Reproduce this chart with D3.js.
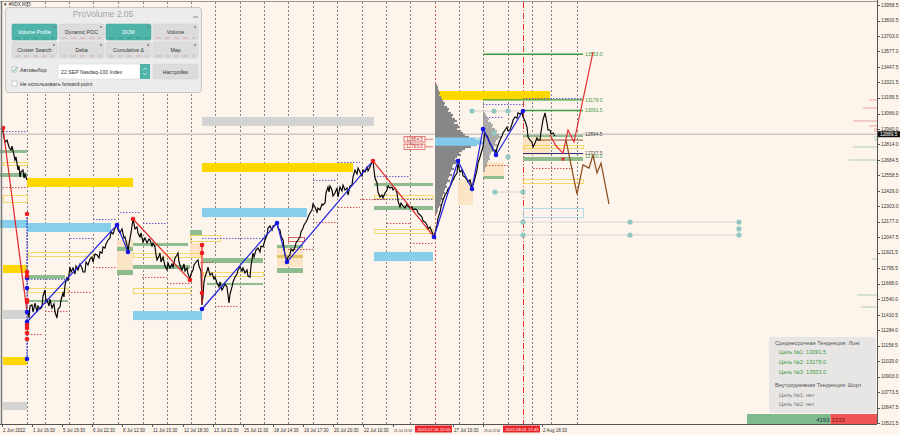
<!DOCTYPE html>
<html>
<head>
<meta charset="utf-8">
<script src="https://cdn.jsdelivr.net/npm/d3@7"></script>
<style>
html, body { margin: 0; padding: 0; background: #fdf4ec; }
svg { display: block; font-family: "Liberation Sans", Arial, sans-serif; }
</style>
</head>
<body>
<div id="chart"></div>
<script>
// ---- data ----
var priceTicks = [13958.5, 13830.5, 13703.0, 13577.0, 13447.5, 13321.5, 13195.5, 13066.0, 12940.0, 12814.0,
  12684.5, 12558.5, 12429.0, 12303.0, 12177.0, 12047.5, 11921.5, 11795.5, 11668.0, 11540.0, 11410.5,
  11284.0, 11158.5, 11029.0, 10903.0, 10773.5, 10647.5, 10521.5];

var timeLabels = [[2,"2 Jun 2022"],[32,"1 Jul 16:30"],[62,"5 Jul 19:30"],[92,"6 Jul 22:30"],[122,"8 Jul 12:30"],
  [152,"11 Jul 15:30"],[183,"12 Jul 18:30"],[213,"13 Jul 21:30"],[243,"15 Jul 11:30"],[273,"18 Jul 14:30"],
  [303,"19 Jul 17:30"],[333,"20 Jul 20:30"],[363,"22 Jul 10:30"],[393,"25 Jul 13:30"],[453,"27 Jul 19:30"],
  [483,"28 Jul 22:30"],[542,"2 Aug 18:30"]];
var markedTimes = [[415,"2022.07.26 22:00"],[503,"2022.08.01 17:45"]];

var daySeparators = [27,45,69,93,118,143,167,191,215,240,264,288,313,337,362,386,410,459,483,508,532,551,577];

// bar index, close
var priceEarly = [[1,12947],[3,12914],[5,12832],[7,12848],[9,12791],[11,12766],[12,12799],[14,12725],[15,12684],
  [16,12709],[18,12602],[19,12635],[20,12544],[21,12585],[23,12602],[24,12536],[25,12569],[27,12520]];

var priceMain = [[28,11451],[29,11385],[30,11484],[32,11492],[33,11434],[35,11508],[37,11434],[38,11484],[40,11459],
  [42,11475],[43,11566],[45,11615],[46,11516],[47,11533],[49,11484],[50,11541],[52,11467],[54,11500],[55,11434],
  [56,11410],[57,11385],[58,11459],[60,11475],[61,11533],[63,11590],[64,11558],[65,11656],[67,11722],[68,11689],
  [70,11804],[71,11763],[73,11796],[75,11747],[76,11812],[78,11780],[80,11829],[82,11796],[83,11763],[85,11763],
  [86,11845],[88,11821],[90,11870],[92,11886],[93,11845],[95,11911],[97,11903],[99,11878],[100,11928],[102,11919],
  [103,11969],[105,11960],[106,11993],[108,12026],[110,12043],[111,12092],[113,12076],[115,12125],[117,12150],
  [118,12108],[120,12084],[122,12117],[124,12043],[125,12051],[127,11985],[128,11928],[129,11993],[131,12084],
  [132,12141],[133,12199],[134,12158],[135,12117],[137,12133],[138,12084],[140,12051],[141,12084],[143,12010],
  [145,12043],[147,12002],[149,12034],[150,12026],[152,11977],[153,12002],[155,11969],[156,11903],[157,11862],
  [159,11895],[160,11919],[161,11845],[163,11886],[165,11812],[167,11780],[168,11837],[170,11796],[172,11829],
  [173,11804],[175,11878],[177,11903],[178,11919],[179,11845],[181,11796],[182,11780],[184,11829],[185,11771],
  [187,11796],[188,11747],[190,11706],[191,11747],[193,11780],[194,11821],[196,11845],[198,11862],[199,11812],
  [201,11771],[202,11492],[203,11566],[204,11681],[205,11722],[207,11771],[208,11804],[210,11738],[212,11755],
  [214,11706],[215,11722],[217,11673],[219,11640],[220,11681],[222,11615],[224,11648],[225,11664],[227,11640],
  [228,11574],[229,11508],[230,11582],[232,11640],[233,11681],[235,11722],[237,11747],[238,11780],[240,11804],
  [242,11771],[243,11796],[245,11755],[247,11780],[248,11730],[250,11722],[251,11812],[253,11919],[254,11886],
  [256,11944],[258,11960],[260,11928],[261,11977],[263,11969],[265,12026],[267,12067],[268,12125],[270,12141],
  [272,12108],[273,12141],[275,12150],[277,12166],[278,12125],[280,12108],[281,12059],[283,12026],[284,11960],
  [285,11903],[287,11845],[288,11886],[290,11903],[291,11952],[293,11936],[295,11969],[296,12002],[298,12026],
  [300,12051],[301,12092],[303,12125],[304,12150],[306,12174],[307,12191],[309,12232],[310,12248],[312,12273],
  [313,12322],[315,12298],[317,12256],[318,12289],[320,12273],[322,12322],[323,12314],[325,12330],[326,12413],
  [328,12462],[329,12421],[330,12470],[332,12437],[333,12388],[335,12413],[337,12454],[338,12380],[340,12462],
  [342,12429],[343,12478],[345,12437],[347,12454],[348,12396],[350,12470],[352,12478],[353,12544],[355,12602],
  [357,12569],[358,12618],[360,12585],[362,12553],[363,12602],[365,12585],[367,12626],[368,12594],[370,12626],
  [371,12651],[373,12676],[374,12602],[375,12536],[377,12495],[378,12421],[380,12380],[382,12396],[383,12372],
  [385,12413],[387,12437],[388,12470],[390,12454],[392,12462],[393,12437],[395,12454],[397,12413],[398,12347],
  [400,12298],[401,12330],[403,12306],[405,12289],[407,12322],[408,12306],[410,12289],[412,12298],[413,12273],
  [415,12281],[417,12273],[418,12248],[420,12232],[422,12215],[423,12182],[425,12174],[427,12150],[428,12117],
  [430,12133],[432,12092],[434,12051],[435,12084],[437,12150],[438,12207],[440,12256],[441,12298],[443,12355],
  [445,12396],[447,12421],[448,12446],[450,12462],[452,12503],[453,12520],[455,12553],[457,12577],[458,12659],
  [459,12618],[460,12585],[462,12602],[463,12553],[465,12544],[467,12520],[468,12503],[470,12520],[472,12454],
  [473,12478],[475,12536],[477,12602],[478,12659],[480,12709],[482,12766],[483,12791],[484,12865],[485,12906],
  [487,12881],[488,12865],[490,12816],[492,12791],[493,12766],[495,12766],[496,12742],[497,12783],[498,12807],
  [500,12848],[502,12881],[503,12906],[505,12931],[507,12955],[508,12923],[510,12931],[512,12980],[513,13013],
  [515,13038],[517,13029],[518,13071],[520,13062],[522,13079],[523,13038],[525,13005],[527,12955],[528,12873],
  [530,12848],[532,12832],[533,12791],[535,12824],[537,12865],[538,12848],[540,12848],[541,12914],[543,13013],
  [545,13071],[546,13029],[547,12988],[548,12931],[550,12931],[551,12898],[553,12906],[555,12881]];

// zigzag legs: bar1, price1, bar2, price2, colour key
var zigzagLegs = [[3,12947,27,11434,"dn"],[27,11352,117,12150,"up"],[117,12150,128,11928,"up"],
  [133,12199,190,11697,"dn"],[202,11985,202,11508,"dn"],[202,11459,277,12166,"up"],[277,12166,287,11845,"up"],
  [287,11845,373,12676,"up"],[373,12676,434,12051,"dn"],[434,12051,458,12676,"up"],[458,12676,472,12446,"up"],
  [472,12446,483,12939,"up"],[483,12939,496,12725,"up"],[496,12725,523,13087,"up"]];
var pivotsBlue = [[27,11352],[117,12150],[128,11928],[202,11459],[277,12166],[287,11845],[434,12051],[458,12676],
  [472,12446],[483,12939],[496,12725],[523,13087],[27,11048],[27,11714],[27,11632],[27,11434]];
var pivotsRed = [[3,12947],[133,12199],[190,11697],[373,12676],[27,12240],[202,11985],[202,11919],[202,11590],
  [27,11763],[27,11730],[27,11533],[27,11516],[27,11327],[27,11303],[27,11261],[27,11212]];

var forecastUp = [[550,12890],[556,12799],[563,12741],[568,12931],[574,12832],[593,13572]];
var forecastDown = [[566,12848],[577,12404],[583,12643],[589,12618],[593,12725],[597,12577],[601,12659],[609,12322]];

// levels: bar from, bar to, upper price, lower price
var bandsGrey = [[202,374,13038,12964],[3,27,11451,11377],[3,27,10694,10628]];
var bandsGold = [[27,133,12536,12462],[202,353,12659,12585],[435,550,13251,13177],[3,27,11821,11755],[3,27,11064,10998]];
var bandsSky = [[0,27,12191,12125],[27,111,12166,12092],[202,307,12289,12215],[133,202,11442,11368],[374,433,11928,11853]];
var bandsGreen = [[0,27,12766,12742],[0,27,12577,12544],[28,65,11738,11706],[28,68,11533,11516],[117,133,11969,11936],
  [133,188,12002,11977],[133,190,11821,11788],[117,133,11780,11738],[190,202,12108,12067],[203,263,11878,11837],
  [207,263,11673,11656],[277,303,11985,11960],[277,303,11796,11755],[374,433,12495,12470],[374,433,12306,12273],
  [483,504,12552,12528],[523,583,12709,12676],[523,583,12898,12873]];
var bandsBeige = [[117,133,12026,11780],[277,303,11969,11804],[190,202,12002,11878],[483,504,12667,12544],
  [458,473,12520,12314],[523,550,12873,12725]];
var bandsOchre = [[277,303,11903,11878]];
var boxesYellow = [[28,92,11928,11895],[28,68,11632,11599],[133,200,11919,11886],[133,190,11632,11590],
  [3,27,12668,12643],[3,27,12396,12339],[190,220,12067,12018],[203,263,11763,11730],[374,433,12396,12372],
  [374,433,12117,12084],[523,583,12807,12783],[523,583,12528,12495]];
var boxesRed = [[288,304,12051,12018]];
var boxesCyan = [[523,583,12289,12215]];

// short dotted levels: bar from, bar to, price
var dotsBlue = [[3,27,12922],[120,140,12256],[143,167,12166],[70,93,12043],[93,117,12199],[28,65,11706],
  [202,263,12043],[313,337,12520],[338,360,12668],[374,410,12552],[374,433,12363],[483,503,13038],
  [483,523,13144],[523,583,13194]];
var dotsRed = [[3,27,12462],[28,43,11253],[45,68,11442],[68,92,11599],[93,117,11804],[142,167,11722],
  [167,190,11673],[215,238,11484],[200,213,11845],[288,313,11952],[313,337,12174],[338,360,12298],
  [360,387,12363],[387,410,12166],[410,433,12002],[483,508,12643],[533,573,12618]];

var targets = [[483,583,13553.0,"13553.0"],[483,583,13178.0,"13178.0"],[523,583,13091.5,"13091.5"]];
var lastPrice = 12896.0;

var nodes = [[472,13087],[494,13087],[508,13087],[494,12906],[508,12709],[495,12421],[523,12421],[523,12174],
  [523,12067],[630,12174],[630,12067],[739,12174],[739,12117],[739,12067]];
var nodeLinks = [[472,523,13087],[495,523,12421],[480,739,12174],[480,739,12067]];

// volume profile (bar widths) from 13309 downward, one bin every 16.4 points
var profileVolume = [2,3,3,4,5,4,6,7,8,10,9,12,14,13,16,18,17,20,22,19,23,25,22,26,28,30,34,40,46,48,42,36,
  30,27,24,26,22,20,23,21,18,17,19,16,15,17,14,13,15,12,11,12,10,9,10,8,7,8,6,5,6,4,3,3,2];
var profile2Volume = [2,3,4,6,5,8,10,9,12,14,13,16,18,15,13,12,14,11,9,10,8,7,6,7,5,4,4,3,2,2];

var domAsks = [[13178,8],[13112,14],[13005,24],[12964,8],[12939,3],[12923,3]];
var domBids = [[12873,3],[12849,3],[12791,24],[12684,28],[11870,5],[11574,20],[11475,16]];

var buyVol = 4193, sellVol = 2333;

var trendLines = [
  ["Среднесрочная Тенденция: Лонг", "#555", 0],
  ["Цель №1: 13091.5", "#3f9b3f", 1],
  ["Цель №2: 13178.0", "#3f9b3f", 1],
  ["Цель №3: 13553.0", "#3f9b3f", 1],
  ["Внутридневная Тенденция: Шорт", "#555", 0],
  ["Цель №1: нет", "#777", 1],
  ["Цель №2: нет", "#777", 1]
];
var buttons = [["Volume Profile",1],["Dynamic POC",0],["DOM",1],["Volume",0],
  ["Cluster Search",0],["Delta",0],["Cumulative Δ",0],["Map",0]];

// ---- drawing ----
var W = 900, H = 435, plotRight = 877, plotBottom = 424;
var x = d3.scaleLinear().domain([0, 877]).range([0, plotRight]);
var y = d3.scaleLinear().domain([10521.5, 13958.5]).range([423, 5]);

var svg = d3.select("#chart").append("svg").attr("width", W).attr("height", H);
svg.append("rect").attr("width", W).attr("height", H).attr("fill", "#fdf4ec");

var plot = svg.append("g");

// day separators
plot.selectAll(".sep").data(daySeparators).enter().append("line")
    .attr("x1", d => x(d) + 0.5).attr("x2", d => x(d) + 0.5)
    .attr("y1", 2).attr("y2", plotBottom)
    .attr("stroke", "#666").attr("stroke-width", 0.8).attr("stroke-dasharray", "2,2");
plot.append("line").attr("x1", x(435) + 0.5).attr("x2", x(435) + 0.5).attr("y1", 2).attr("y2", plotBottom)
    .attr("stroke", "#d03030").attr("stroke-width", 0.8).attr("stroke-dasharray", "2,2");
plot.append("line").attr("x1", x(523) + 0.5).attr("x2", x(523) + 0.5).attr("y1", 2).attr("y2", plotBottom)
    .attr("stroke", "#e83030").attr("stroke-width", 1).attr("stroke-dasharray", "6,2,1,2");

function drawBands(data, fill, opacity) {
  plot.append("g").selectAll("rect").data(data).enter().append("rect")
      .attr("x", d => x(d[0])).attr("width", d => x(d[1]) - x(d[0]))
      .attr("y", d => y(d[2])).attr("height", d => Math.max(1.5, y(d[3]) - y(d[2])))
      .attr("fill", fill).attr("opacity", opacity);
}
function drawBoxes(data, stroke) {
  plot.append("g").selectAll("rect").data(data).enter().append("rect")
      .attr("x", d => x(d[0]) + 0.5).attr("width", d => x(d[1]) - x(d[0]))
      .attr("y", d => y(d[2]) + 0.5).attr("height", d => y(d[3]) - y(d[2]))
      .attr("fill", "none").attr("stroke", stroke).attr("stroke-width", 0.8);
}
function drawDots(data, stroke) {
  plot.append("g").selectAll("line").data(data).enter().append("line")
      .attr("x1", d => x(d[0])).attr("x2", d => x(d[1]))
      .attr("y1", d => y(d[2]) + 0.5).attr("y2", d => y(d[2]) + 0.5)
      .attr("stroke", stroke).attr("stroke-width", 0.9).attr("stroke-dasharray", "1.5,1.5");
}

drawBands(bandsBeige, "#fbe2c0", 0.85);
drawBands(bandsGrey, "#d3d3d3", 1);
drawBands(bandsGold, "#ffd700", 1);
drawBands(bandsSky, "#87ceeb", 1);
drawBands(bandsGreen, "#8fbc8f", 1);
drawBands(bandsOchre, "#e2c060", 0.9);
drawBoxes(boxesYellow, "#f0d24a");
drawBoxes(boxesRed, "#d04848");
drawBoxes(boxesCyan, "#9fd3e6");
drawDots(dotsBlue, "#5050c8");
drawDots(dotsRed, "#d04040");

// last price line
plot.append("line").attr("x1", 0).attr("x2", plotRight)
    .attr("y1", y(lastPrice)).attr("y2", y(lastPrice))
    .attr("stroke", "#cdc8c4").attr("stroke-width", 1.6);

// volume profiles
var binStep = 16.4, binTop = 13309;
var prof = plot.append("g");
prof.selectAll("rect").data(profileVolume).enter().append("rect")
    .attr("x", x(435)).attr("width", d => x(435 + d) - x(435))
    .attr("y", (d, i) => y(binTop - i * binStep)).attr("height", y(0) - y(binStep) + 0.3)
    .attr("fill", (d, i) => (binTop - i * binStep <= 12873 && binTop - i * binStep >= 12807) ? "#7cc3e6" : "#878787");
plot.append("rect").attr("x", x(435)).attr("width", x(482) - x(435))
    .attr("y", y(12873)).attr("height", y(12807) - y(12873)).attr("fill", "#87ceeb").attr("opacity", 0.5);
plot.append("g").selectAll("rect").data(profile2Volume).enter().append("rect")
    .attr("x", x(483)).attr("width", d => x(483 + d) - x(483))
    .attr("y", (d, i) => y(13079 - i * binStep)).attr("height", y(0) - y(binStep) + 0.3)
    .attr("fill", "#9a9a9a").attr("opacity", 0.8);

// profile price labels
var profTags = [[12854.5, "12854.5"], [12793.0, "12793.0"]];
var tags = plot.append("g").selectAll("g").data(profTags).enter().append("g");
tags.append("rect").attr("x", x(404)).attr("y", d => y(d[0]) - 2.7).attr("width", 21).attr("height", 5.4)
    .attr("fill", "#fdf4ec").attr("stroke", "#d84a4a").attr("stroke-width", 0.7);
tags.append("line").attr("x1", x(425)).attr("x2", x(433)).attr("y1", d => y(d[0])).attr("y2", d => y(d[0]))
    .attr("stroke", "#d84a4a").attr("stroke-width", 0.7);
tags.append("text").attr("x", x(414.5)).attr("y", d => y(d[0]) + 1.7).attr("text-anchor", "middle")
    .attr("font-size", 4.6).attr("fill", "#c83030").text(d => d[1]);

// target lines
var tg = plot.append("g").selectAll("g").data(targets).enter().append("g");
tg.append("line").attr("x1", d => x(d[0])).attr("x2", d => x(d[1]))
    .attr("y1", d => y(d[2])).attr("y2", d => y(d[2]))
    .attr("stroke", "#3f9b3f").attr("stroke-width", 1.4);
tg.append("text").attr("x", d => x(d[1]) + 2).attr("y", d => y(d[2]) + 1.7)
    .attr("font-size", 4.8).attr("fill", "#3f9b3f").text(d => d[3]);
plot.append("line").attr("x1", x(523)).attr("x2", x(583)).attr("y1", y(12737.5)).attr("y2", y(12737.5))
    .attr("stroke", "#2a2a7a").attr("stroke-width", 1.1);
plot.append("line").attr("x1", x(540)).attr("x2", x(583)).attr("y1", y(12848)).attr("y2", y(12848))
    .attr("stroke", "#8b4a1a").attr("stroke-width", 0.9);
plot.append("text").attr("x", x(583) + 2).attr("y", y(12894.5) + 1.7).attr("font-size", 4.8).attr("fill", "#444").text("12894.5");
plot.append("text").attr("x", x(583) + 2).attr("y", y(12737.5) + 1.4).attr("font-size", 4.8).attr("fill", "#555").text("12737.5");
plot.append("text").attr("x", x(583) + 2).attr("y", y(12710.0) + 1.4).attr("font-size", 4.8).attr("fill", "#3f9b3f").text("12710.0");

// node links and circles
plot.append("g").selectAll("line").data(nodeLinks).enter().append("line")
    .attr("x1", d => x(d[0])).attr("x2", d => x(d[1])).attr("y1", d => y(d[2])).attr("y2", d => y(d[2]))
    .attr("stroke", "#d9d4cf").attr("stroke-width", 1);
plot.append("g").selectAll("circle").data(nodes).enter().append("circle")
    .attr("cx", d => x(d[0])).attr("cy", d => y(d[1])).attr("r", 2.6)
    .attr("fill", "#93c8c2");

// DOM
plot.append("g").selectAll("line").data(domAsks).enter().append("line")
    .attr("x1", d => plotRight - d[1]).attr("x2", plotRight).attr("y1", d => y(d[0])).attr("y2", d => y(d[0]))
    .attr("stroke", "#e36a6a").attr("stroke-width", 0.8).attr("opacity", 0.7);
plot.append("g").selectAll("line").data(domBids).enter().append("line")
    .attr("x1", d => plotRight - d[1]).attr("x2", plotRight).attr("y1", d => y(d[0])).attr("y2", d => y(d[0]))
    .attr("stroke", "#6fb27a").attr("stroke-width", 0.8).attr("opacity", 0.7);

// price
var line = d3.line().x(d => x(d[0])).y(d => y(d[1]));
plot.append("path").datum(priceEarly).attr("d", line).attr("fill", "none").attr("stroke", "#000").attr("stroke-width", 1.15);
plot.append("path").datum(priceMain).attr("d", line).attr("fill", "none").attr("stroke", "#000").attr("stroke-width", 1.15);

// zigzag
plot.append("line").attr("x1", x(27)).attr("x2", x(27)).attr("y1", y(12240)).attr("y2", y(11048))
    .attr("stroke", "#2020d0").attr("stroke-width", 1).attr("stroke-dasharray", "2,1");
plot.append("g").selectAll("line").data(zigzagLegs).enter().append("line")
    .attr("x1", d => x(d[0])).attr("y1", d => y(d[1])).attr("x2", d => x(d[2])).attr("y2", d => y(d[3]))
    .attr("stroke", d => d[4] === "up" ? "#2222dd" : "#e02828").attr("stroke-width", 1.2);
plot.append("g").selectAll("circle").data(pivotsBlue).enter().append("circle")
    .attr("cx", d => x(d[0])).attr("cy", d => y(d[1])).attr("r", 2.3).attr("fill", "#1414e6");
plot.append("g").selectAll("circle").data(pivotsRed).enter().append("circle")
    .attr("cx", d => x(d[0])).attr("cy", d => y(d[1])).attr("r", 2.3).attr("fill", "#ee1c1c");
plot.append("rect").attr("x", x(563) - 1.5).attr("y", y(12692) - 1.5).attr("width", 3).attr("height", 3).attr("fill", "#e02828");

// forecasts
plot.append("path").datum(forecastUp).attr("d", line).attr("fill", "none").attr("stroke", "#e53030").attr("stroke-width", 1.2);
plot.append("path").datum(forecastDown).attr("d", line).attr("fill", "none").attr("stroke", "#8b4a1a").attr("stroke-width", 1.2);

// frame
svg.append("line").attr("x1", 0).attr("x2", plotRight).attr("y1", 1.5).attr("y2", 1.5).attr("stroke", "#9a9a9a");
svg.append("line").attr("x1", 1.5).attr("x2", 1.5).attr("y1", 1).attr("y2", plotBottom).attr("stroke", "#7a7a7a").attr("stroke-width", 1.5);
svg.append("text").attr("x", 3).attr("y", 6).attr("font-size", 4.5).attr("fill", "#333").text("▼ #NDX,M15");

// price axis
var ya = svg.append("g");
ya.append("line").attr("x1", plotRight + 0.5).attr("x2", plotRight + 0.5).attr("y1", 0).attr("y2", plotBottom)
    .attr("stroke", "#555");
ya.selectAll(".tk").data(priceTicks).enter().append("line")
    .attr("x1", plotRight).attr("x2", plotRight + 3).attr("y1", d => Math.round(y(d)) + 0.5).attr("y2", d => Math.round(y(d)) + 0.5)
    .attr("stroke", "#555");
ya.selectAll(".lb").data(priceTicks).enter().append("text")
    .attr("x", plotRight + 4).attr("y", d => y(d) + 1.7)
    .attr("font-size", 4.8).attr("fill", "#333").text(d => d.toFixed(1));
ya.append("rect").attr("x", plotRight + 1).attr("y", y(lastPrice) - 3).attr("width", 22).attr("height", 6).attr("fill", "#111");
ya.append("text").attr("x", plotRight + 3).attr("y", y(lastPrice) + 1.8).attr("font-size", 4.8).attr("fill", "#fff").text("12889.5");

// time axis; each label is fitted into the room before the next label or marker
var starts = timeLabels.map(d => d[0]).concat(markedTimes.map(d => d[0])).sort((a, b) => a - b);
function room(b) {
  var nxt = starts.filter(s => s > b)[0];
  return nxt === undefined ? 40 : x(nxt) - x(b) - 4;
}
var xa = svg.append("g");
xa.append("line").attr("x1", 0).attr("x2", plotRight).attr("y1", plotBottom + 0.5).attr("y2", plotBottom + 0.5).attr("stroke", "#555");
xa.selectAll(".tk").data(timeLabels).enter().append("line")
    .attr("x1", d => x(d[0]) + 0.5).attr("x2", d => x(d[0]) + 0.5).attr("y1", plotBottom).attr("y2", plotBottom + 3)
    .attr("stroke", "#555");
xa.selectAll(".lb").data(timeLabels).enter().append("text")
    .attr("x", d => x(d[0]) + 1).attr("y", plotBottom + 7.5)
    .attr("font-size", 4.5).attr("fill", "#333").text(d => d[1])
    .each(function(d) {
      var w = this.getComputedTextLength(), r = room(d[0]);
      if (w > r) {
        d3.select(this).attr("font-size", Math.max(3.8, 4.5 * r / w))
            .attr("textLength", r).attr("lengthAdjust", "spacingAndGlyphs");
      }
    });
var mk = xa.selectAll(".mk").data(markedTimes).enter().append("g");
mk.append("rect").attr("x", d => x(d[0])).attr("y", plotBottom + 1.5).attr("width", 37).attr("height", 7).attr("fill", "#e8262a");
mk.append("text").attr("x", d => x(d[0]) + 2.5).attr("y", plotBottom + 7).attr("font-size", 4.3).attr("fill", "#fff")
    .attr("textLength", 33).attr("lengthAdjust", "spacingAndGlyphs").text(d => d[1]);

// buy / sell volume bar
var vb = d3.scaleLinear().domain([0, buyVol + sellVol]).range([747, plotRight]);
svg.append("rect").attr("x", vb(0)).attr("y", 414).attr("width", vb(buyVol) - vb(0)).attr("height", 10).attr("fill", "#7dbb8e");
svg.append("rect").attr("x", vb(buyVol)).attr("y", 414).attr("width", vb(buyVol + sellVol) - vb(buyVol)).attr("height", 10).attr("fill", "#f05454");
svg.append("text").attr("x", vb(buyVol) - 1).attr("y", 421.5).attr("text-anchor", "end").attr("font-size", 6).attr("fill", "#234").text(buyVol);
svg.append("text").attr("x", vb(buyVol) + 1).attr("y", 421.5).attr("font-size", 6).attr("fill", "#7a1010").text(sellVol);

// trend info box
var ib = svg.append("g");
ib.append("rect").attr("x", 769).attr("y", 337).attr("width", 107).attr("height", 76).attr("rx", 3).attr("fill", "#e8e6e4");
ib.selectAll("text").data(trendLines).enter().append("text")
    .attr("x", d => d[2] ? 779 : 775)
    .attr("y", (d, i) => [345, 354, 364, 374, 387, 397, 406][i])
    .attr("font-size", 5.6).attr("fill", d => d[1]).text(d => d[0]);

// ProVolume panel
var pn = svg.append("g");
pn.append("rect").attr("x", 5.5).attr("y", 7.5).attr("width", 196).attr("height", 85).attr("rx", 3)
    .attr("fill", "#ececec").attr("stroke", "#c4c4c4");
pn.append("text").attr("x", 103).attr("y", 17).attr("text-anchor", "middle").attr("font-size", 8.5).attr("fill", "#a4a4a4").text("ProVolume 2.05");
pn.append("line").attr("x1", 193).attr("x2", 198).attr("y1", 17).attr("y2", 17).attr("stroke", "#888");
var bx = [12, 59, 106, 153];
var btn = pn.selectAll(".btn").data(buttons).enter().append("g");
btn.append("rect").attr("x", (d, i) => bx[i % 4]).attr("y", (d, i) => i < 4 ? 24 : 42)
    .attr("width", 45).attr("height", 16).attr("rx", 1.5)
    .attr("fill", d => d[1] ? "#4fb5aa" : "#dcdcdc").attr("stroke", d => d[1] ? "#46a197" : "#cfcfcf").attr("stroke-width", 0.5);
btn.append("text").attr("x", (d, i) => bx[i % 4] + 22.5).attr("y", (d, i) => (i < 4 ? 24 : 42) + 10)
    .attr("text-anchor", "middle").attr("font-size", 5.2)
    .attr("fill", d => d[1] ? "#fff" : "#333").text(d => d[0]);
btn.append("line").attr("x1", (d, i) => bx[i % 4] + 3).attr("x2", (d, i) => bx[i % 4] + 42)
    .attr("y1", (d, i) => (i < 4 ? 24 : 42) + 14).attr("y2", (d, i) => (i < 4 ? 24 : 42) + 14)
    .attr("stroke", d => d[1] ? "#2f7f76" : "#d98a8a").attr("stroke-width", 0.6).attr("stroke-dasharray", "5,4");
btn.append("circle").attr("cx", (d, i) => bx[i % 4] + 42).attr("cy", (d, i) => (i < 4 ? 24 : 42) + 3).attr("r", 0.9)
    .attr("fill", "#777");
pn.append("rect").attr("x", 12).attr("y", 67).attr("width", 5).attr("height", 5).attr("fill", "#fff").attr("stroke", "#999").attr("stroke-width", 0.5);
pn.append("path").attr("d", "M12.8,69.5 L14.3,71.2 L16.8,67.3").attr("fill", "none").attr("stroke", "#4fb5aa").attr("stroke-width", 0.9);
pn.append("text").attr("x", 20).attr("y", 71.5).attr("font-size", 5.2).attr("fill", "#333").text("Автовыбор");
pn.append("rect").attr("x", 58).attr("y", 64).attr("width", 82).attr("height", 15).attr("fill", "#fff").attr("stroke", "#d0d0d0").attr("stroke-width", 0.5);
pn.append("text").attr("x", 61).attr("y", 73.5).attr("font-size", 5.2).attr("fill", "#333").text("22 SEP Nasdaq-100 Index");
pn.append("rect").attr("x", 140).attr("y", 64).attr("width", 10).attr("height", 15).attr("fill", "#4fb5aa");
pn.append("path").attr("d", "M143,70 L145,68 L147,70 M143,73 L145,75 L147,73").attr("fill", "none").attr("stroke", "#fff").attr("stroke-width", 0.6);
pn.append("rect").attr("x", 153).attr("y", 64).attr("width", 45).attr("height", 15).attr("rx", 1.5).attr("fill", "#dcdcdc").attr("stroke", "#cfcfcf").attr("stroke-width", 0.5);
pn.append("text").attr("x", 175.5).attr("y", 73.5).attr("text-anchor", "middle").attr("font-size", 5.2).attr("fill", "#333").text("Настройки");
pn.append("rect").attr("x", 12).attr("y", 81).attr("width", 5).attr("height", 5).attr("fill", "#fff").attr("stroke", "#999").attr("stroke-width", 0.5);
pn.append("text").attr("x", 20).attr("y", 85.5).attr("font-size", 5.2).attr("fill", "#333").text("Не использовать forward-point");
</script>
</body>
</html>
